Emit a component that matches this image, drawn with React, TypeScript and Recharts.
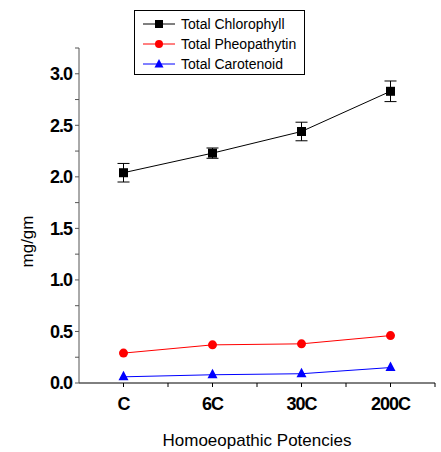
import React from 'react';
import { LineChart, Line, XAxis, YAxis, ErrorBar } from 'recharts';

const potencies = ['C', '6C', '30C', '200C'];
const chlorophyll = [2.04, 2.23, 2.44, 2.83];
const chlorophyllErr = [0.09, 0.05, 0.09, 0.1];
const pheopathytin = [0.29, 0.37, 0.38, 0.46];
const carotenoid = [0.06, 0.08, 0.09, 0.15];

const yTicks = [0, 0.25, 0.5, 0.75, 1, 1.25, 1.5, 1.75, 2, 2.25, 2.5, 2.75, 3, 3.25];
const xTicks = [0, 0.5, 1, 1.5, 2, 2.5, 3, 3.5];

const data = potencies.map((p, i) => ({
  idx: i,
  name: p,
  chl: chlorophyll[i],
  chlErr: chlorophyllErr[i],
  pheo: pheopathytin[i],
  car: carotenoid[i],
}));

const FONT = 'Arial, "Liberation Sans", sans-serif';

const SquareDot = (props: any) => {
  const { cx, cy, index } = props;
  return <rect key={`sq-${index}`} x={cx - 4.5} y={cy - 4.5} width={9} height={9} fill="#000" />;
};

const CircleDot = (props: any) => {
  const { cx, cy, index } = props;
  return <circle key={`ci-${index}`} cx={cx} cy={cy} r={4.5} fill="#ff0000" />;
};

const TriDot = (props: any) => {
  const { cx, cy, index } = props;
  return (
    <polygon
      key={`tr-${index}`}
      points={`${cx},${cy - 6} ${cx - 5},${cy + 3.5} ${cx + 5},${cy + 3.5}`}
      fill="#0000ff"
    />
  );
};

const legendItems = [
  { label: 'Total Chlorophyll', color: '#000', shape: 'square' },
  { label: 'Total Pheopathytin', color: '#ff0000', shape: 'circle' },
  { label: 'Total Carotenoid', color: '#0000ff', shape: 'triangle' },
];

const LegendBox = () => (
  <svg width={172} height={66} style={{ position: 'absolute', left: 134, top: 10 }}>
    <rect x={0.5} y={0.5} width={170} height={64} fill="#fff" stroke="#000" strokeWidth={1} />
    {legendItems.map((it, i) => {
      const y = 14 + i * 20;
      return (
        <g key={it.label}>
          <line x1={9} x2={41} y1={y} y2={y} stroke={it.color} strokeWidth={1} />
          {it.shape === 'square' && <rect x={21} y={y - 4} width={8} height={8} fill={it.color} />}
          {it.shape === 'circle' && <circle cx={25} cy={y} r={4} fill={it.color} />}
          {it.shape === 'triangle' && (
            <polygon points={`25,${y - 5} 20.5,${y + 3.5} 29.5,${y + 3.5}`} fill={it.color} />
          )}
          <text x={47} y={y + 5} fontSize={14} fontFamily={FONT} fill="#000">
            {it.label}
          </text>
        </g>
      );
    })}
  </svg>
);

const yFmt = (v: number) => (Math.abs(v * 2 - Math.round(v * 2)) < 1e-6 ? v.toFixed(1) : '');
const xFmt = (v: number) => (Number.isInteger(v) ? potencies[v] : '');

export default function App() {
  return (
    <div style={{ position: 'absolute', left: 0, top: 0, width: 441, height: 452, background: '#fff' }}>
      <LineChart width={441} height={452} data={data} margin={{ top: 48, right: 6, left: 0, bottom: 0 }}>
        <XAxis
          dataKey="idx"
          type="number"
          domain={[-0.5, 3.5]}
          ticks={xTicks}
          tickFormatter={xFmt}
          tick={{ fontSize: 18, fontWeight: 'bold', fontFamily: FONT, fill: '#000', letterSpacing: -1 }}
          height={69}
          tickSize={4}
          tickMargin={10}
          stroke="#000"
          label={{
            value: 'Homoeopathic Potencies',
            position: 'insideBottom',
            offset: 6,
            fontSize: 17,
            fontFamily: FONT,
            fill: '#000',
          }}
        />
        <YAxis
          type="number"
          domain={[0, 3.25]}
          ticks={yTicks}
          tickFormatter={yFmt}
          tick={{ fontSize: 18, fontWeight: 'bold', fontFamily: FONT, fill: '#000', letterSpacing: -1 }}
          width={79}
          tickSize={4}
          tickMargin={3}
          stroke="#555"
          label={{
            value: 'mg/gm',
            angle: -90,
            position: 'left',
            offset: -27,
            fontSize: 17,
            fontFamily: FONT,
            fill: '#000',
          }}
        />
        <Line
          dataKey="chl"
          name="Total Chlorophyll"
          stroke="#000"
          strokeWidth={1}
          dot={<SquareDot />}
          isAnimationActive={false}
        >
          <ErrorBar dataKey="chlErr" direction="y" width={6} stroke="#000" strokeWidth={1} />
        </Line>
        <Line
          dataKey="pheo"
          name="Total Pheopathytin"
          stroke="#ff0000"
          strokeWidth={1}
          dot={<CircleDot />}
          isAnimationActive={false}
        />
        <Line
          dataKey="car"
          name="Total Carotenoid"
          stroke="#0000ff"
          strokeWidth={1}
          dot={<TriDot />}
          isAnimationActive={false}
        />
      </LineChart>
      <LegendBox />
    </div>
  );
}
